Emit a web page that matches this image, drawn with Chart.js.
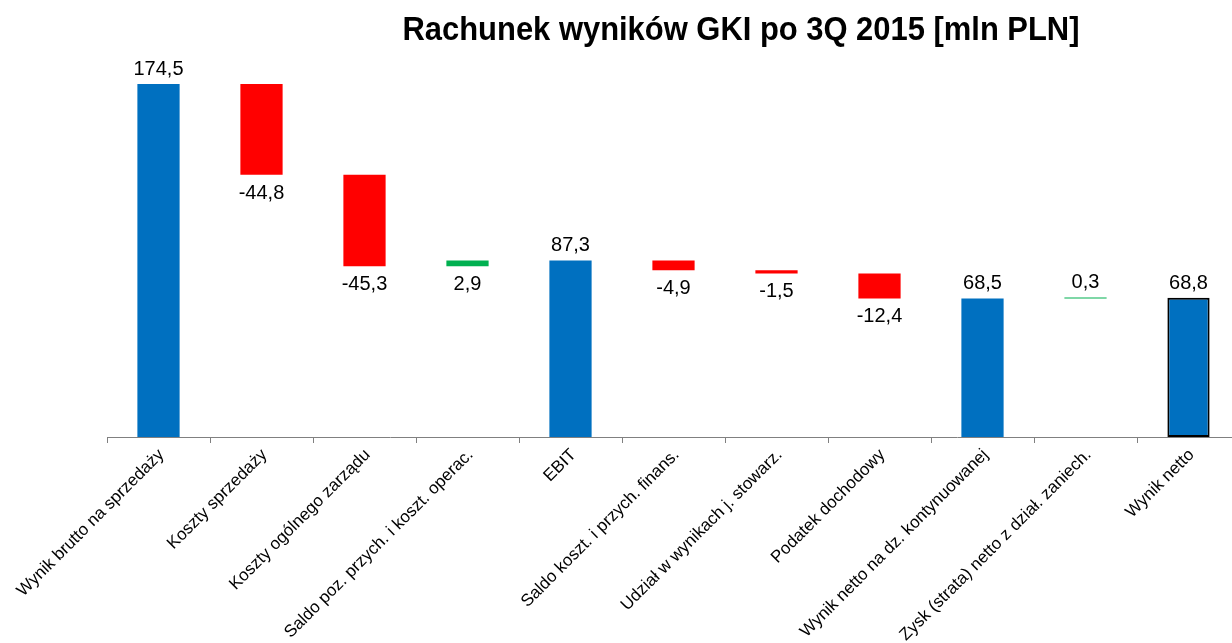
<!DOCTYPE html>
<html lang="pl">
<head>
<meta charset="utf-8">
<title>Rachunek wyników GKI po 3Q 2015</title>
<script src="https://cdn.jsdelivr.net/npm/chart.js@4.4.1/dist/chart.umd.min.js"></script>
<style>
    html, body { margin: 0; padding: 0; background: #fff; overflow: hidden; }
    #wrap { position: absolute; left: 0; top: 0; width: 1240px; height: 643px; }
</style>
</head>
<body>
<div id="wrap"><canvas id="waterfall" width="1240" height="643"></canvas></div>
<script>
// dane wykresu (mln PLN)
const TITLE = 'Rachunek wyników GKI po 3Q 2015 [mln PLN]';
const categories = [
    'Wynik brutto na sprzedaży',
    'Koszty sprzedaży',
    'Koszty ogólnego zarządu',
    'Saldo poz. przych. i koszt. operac.',
    'EBIT',
    'Saldo koszt. i przych. finans.',
    'Udział w wynikach j. stowarz.',
    'Podatek dochodowy',
    'Wynik netto na dz. kontynuowanej',
    'Zysk (strata) netto z dział. zaniech.',
    'Wynik netto'
];
const values = [174.5, -44.8, -45.3, 2.9, 87.3, -4.9, -1.5, -12.4, 68.5, 0.3, 68.8];
const isTotal = [true, false, false, false, true, false, false, false, true, false, true];
const labelSide = ['above', 'below', 'below', 'below', 'above', 'below', 'below', 'below', 'above', 'above', 'above'];

const BLUE = '#0070C0';
const RED = '#FF0000';
const GREEN = '#00B050';
const FONT = '"Liberation Sans", Arial, sans-serif';

// zakresy słupków (wodospad)
let running = 0;
const ranges = values.map((v, i) => {
    if (isTotal[i]) {
        running = v;
        return [0, v];
    }
    const start = running;
    running = +(running + v).toFixed(1);
    return [Math.min(start, running), Math.max(start, running)];
});
const colors = values.map((v, i) => isTotal[i] ? BLUE : (v < 0 ? RED : GREEN));
const borderColors = values.map((v, i) => i === values.length - 1 ? '#000000' : colors[i]);
const borderWidths = values.map((v, i) => i === values.length - 1 ? 2 : 0);

// etykiety wartości
const valueLabels = {
    id: 'valueLabels',
    afterDatasetsDraw(chart) {
        const ctx = chart.ctx;
        const meta = chart.getDatasetMeta(0);
        ctx.save();
        ctx.font = '20px ' + FONT;
        ctx.fillStyle = '#000';
        ctx.textAlign = 'center';
        ctx.textBaseline = 'alphabetic';
        meta.data.forEach((bar, i) => {
            const top = Math.min(bar.y, bar.base);
            const bottom = Math.max(bar.y, bar.base);
            const text = values[i].toFixed(1).replace('.', ',');
            if (labelSide[i] === 'above') {
                ctx.fillText(text, bar.x, top - 9);
            } else {
                ctx.fillText(text, bar.x, bottom + 24);
            }
        });
        ctx.restore();
    }
};

// tytuł
const titlePlugin = {
    id: 'titlePlugin',
    afterDraw(chart) {
        const ctx = chart.ctx;
        ctx.save();
        ctx.font = 'bold 33px "Liberation Sans Narrow", ' + FONT;
        ctx.fillStyle = '#000';
        ctx.textAlign = 'center';
        ctx.textBaseline = 'alphabetic';
        ctx.fillText(TITLE, 741, 40, 677);
        ctx.restore();
    }
};

new Chart(document.getElementById('waterfall'), {
    type: 'bar',
    data: {
        labels: categories,
        datasets: [{
            data: ranges,
            backgroundColor: colors,
            borderColor: borderColors,
            borderWidth: borderWidths,
            borderSkipped: false,
            barPercentage: 0.41,
            categoryPercentage: 1,
            minBarLength: 1
        }]
    },
    options: {
        responsive: false,
        animation: false,
        layout: { padding: { left: 107, top: 73, right: 0, bottom: 0 } },
        plugins: {
            legend: { display: false },
            title: { display: false },
            tooltip: { enabled: false }
        },
        scales: {
            x: {
                grid: {
                    display: true,
                    drawOnChartArea: false,
                    drawTicks: true,
                    tickLength: 6,
                    color: '#808080',
                    offset: true
                },
                border: { display: true, color: '#808080', width: 1 },
                ticks: {
                    autoSkip: false,
                    maxRotation: 45,
                    minRotation: 45,
                    color: '#000',
                    padding: 2,
                    labelOffset: 3,
                    font: { family: FONT, size: 17 }
                },
                afterFit(scale) {
                    scale.height = 206;
                    scale.paddingLeft = 0;
                    scale.paddingRight = 0;
                }
            },
            y: {
                display: false,
                min: 0,
                max: 180
            }
        }
    },
    plugins: [valueLabels, titlePlugin]
});
</script>
</body>
</html>
